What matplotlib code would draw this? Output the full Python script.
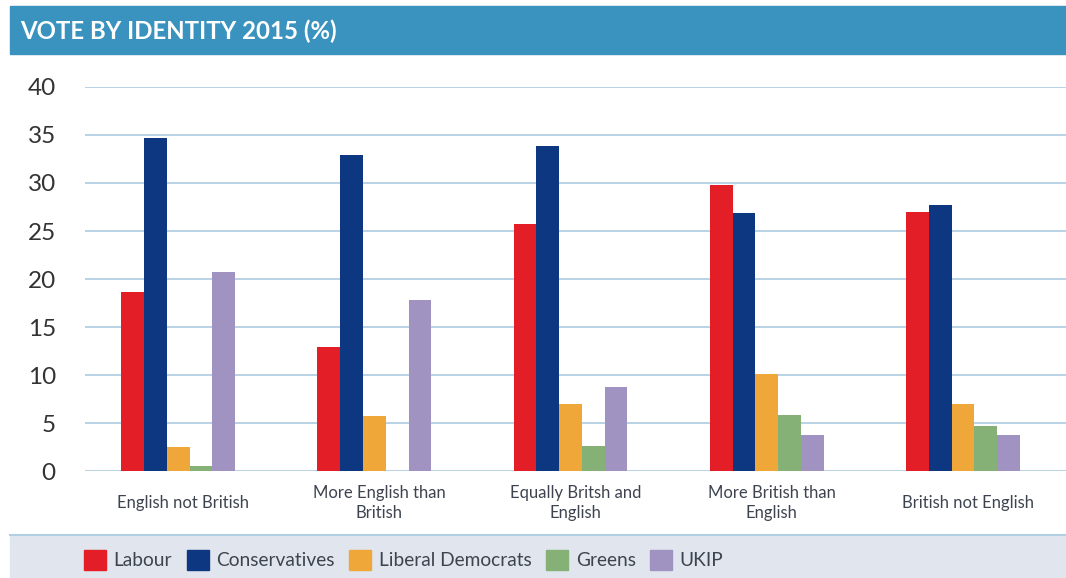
import numpy as np
import matplotlib.pyplot as plt
from matplotlib.patches import Rectangle, Patch
from matplotlib.lines import Line2D

plt.rcParams['font.family'] = ['Lato', 'DejaVu Sans']

# data (% vote share)
categories = ['English not British', 'More English than\nBritish', 'Equally Britsh and\nEnglish',
              'More British than\nEnglish', 'British not English']
parties = ['Labour', 'Conservatives', 'Liberal Democrats', 'Greens', 'UKIP']
labour = [18.6, 12.9, 25.7, 29.8, 27.0]
conservatives = [34.7, 32.9, 33.9, 26.9, 27.7]
libdems = [2.5, 5.7, 7.0, 10.1, 7.0]
greens = [0.5, 0.0, 2.6, 5.8, 4.7]
ukip = [20.7, 17.8, 8.8, 3.8, 3.7]
yticks = [0, 5, 10, 15, 20, 25, 30, 35, 40]

colors = ['#e31e26', '#0d3780', '#f0a73a', '#85b076', '#a093c2']
text_col = '#3d4450'
grid_col = '#b3d0e3'

W, H = 1066, 578
fig = plt.figure(figsize=(W / 100, H / 100), dpi=100)

# title band
fig.patches.append(Rectangle((10 / W, (H - 54) / H), 1 - 10 / W, 48 / H,
                             transform=fig.transFigure, color='#3a92bf', zorder=0))
fig.text(20 / W, (H - 31) / H, 'VOTE BY IDENTITY 2015 (%)', color='white',
         fontsize=17.3, fontweight='bold', va='center', ha='left')

# legend band
fig.patches.append(Rectangle((10 / W, 0), 1 - 10 / W, (H - 535) / H,
                             transform=fig.transFigure, color='#e1e6ee', zorder=0))
fig.lines.append(Line2D([10 / W, 1], [(H - 535) / H] * 2, transform=fig.transFigure,
                        color=grid_col, lw=1.5))

ax = fig.add_axes([85 / W, (H - 471) / H, 981 / W, 384 / H])
series = [labour, conservatives, libdems, greens, ukip]
x = np.arange(len(categories))
bw = 0.116
for i, (vals, c) in enumerate(zip(series, colors)):
    ax.bar(x - 0.025 + (i - 2) * bw, vals, width=bw, color=c, zorder=3)

ax.set_xlim(-0.5, 4.5)
ax.set_ylim(0, 40)
ax.set_yticks(yticks)
ax.set_yticklabels([str(v) for v in yticks], fontsize=17.5, color='#333333')
ax.tick_params(axis='y', length=0, pad=21)
ax.set_xticks(x)
ax.set_xticklabels(categories, fontsize=12, color=text_col, linespacing=1.35)
ax.tick_params(axis='x', length=0, pad=23)
for lab in ax.get_xticklabels():
    lab.set_va('center')
    lab.set_multialignment('center')
ax.yaxis.grid(True, color=grid_col, lw=1.3)
ax.set_axisbelow(True)
for s in ax.spines.values():
    s.set_visible(False)

handles = [Patch(color=c) for c in colors]
fig.legend(handles, parties, loc='center left', bbox_to_anchor=(84 / W, (H - 560) / H),
           ncol=5, frameon=False, fontsize=13.8, labelcolor=text_col,
           handlelength=1.15, handleheight=1.15, handletextpad=0.4, columnspacing=0.75,
           borderaxespad=0, borderpad=0)

fig.savefig('out.png', dpi=100, facecolor='white')
